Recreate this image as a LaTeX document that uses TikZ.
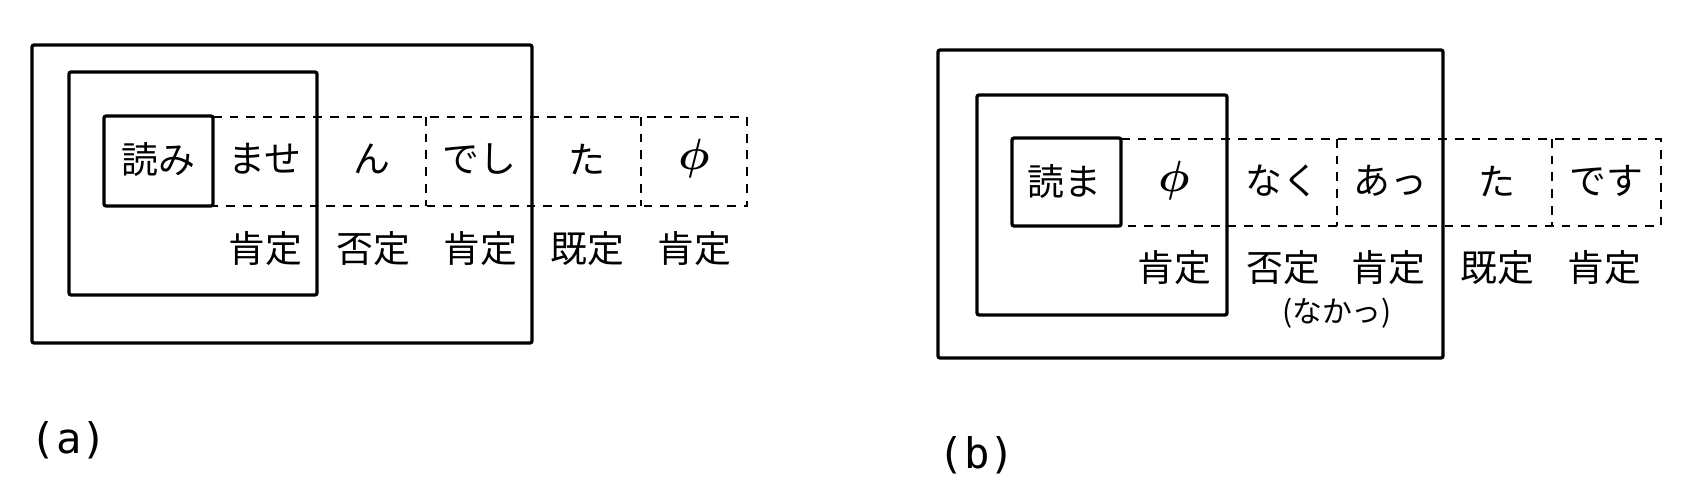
\documentclass[tikz,border=0pt]{standalone}
\usepackage{bm}
\usepackage{fontspec}
\newfontfamily\jpfont{Noto Sans CJK JP}
\newfontfamily\tagfont{DejaVu Sans Mono}

\tikzset{
  solidbox/.style={draw=black, line width=1.9pt, rounded corners=1.2pt},
  dashrule/.style={draw=black, line width=1.5pt, dash pattern=on 5pt off 4.5pt},
  cell/.style={font=\jpfont\fontsize{21}{24}\selectfont, inner sep=0pt},
  small/.style={font=\jpfont\fontsize{17}{20}\selectfont, inner sep=0pt},
  panel/.style={font=\tagfont\fontsize{24}{28}\selectfont, inner sep=0pt}
}
\newcommand{\nullmark}{\fontsize{24}{28}\selectfont$\bm{\phi}$}

\begin{document}
\begin{tikzpicture}[x=0.02cm, y=-0.02cm]

\useasboundingbox (0,0) rectangle (1681,480);

% (a)
\begin{scope}{
\draw[solidbox] (32,45) rectangle (532,343);
\draw[solidbox] (69,72) rectangle (317,295);
\draw[solidbox] (104,116) rectangle (213,206);

\draw[dashrule] (213,117) -- (747,117) -- (747,206) -- (213,206);
\draw[dashrule] (426,117) -- (426,206);
\draw[dashrule] (641,117) -- (641,206);

\node[cell] (yomiA) at (158,159) {読み};
\node[cell] (maseA) at (265,159) {ませ};
\node[cell] (nA) at (372,159) {ん};
\node[cell] (deshiA) at (479,159) {でし};
\node[cell] (taA) at (587,159) {た};
\node[cell] (phiA) at (694,159) {\nullmark};

\node[cell] (affA) at (265,249) {肯定};
\node[cell] (negA) at (373,249) {否定};
\node[cell] (aff2A) at (480,249) {肯定};
\node[cell] (perfA) at (587,249) {既定};
\node[cell] (aff3A) at (694,249) {肯定};

\node[panel] (tagA) at (69,440) {(a)};
} \end{scope}

% (b)
\begin{scope}{
\draw[solidbox] (938,50) rectangle (1443,358);
\draw[solidbox] (977,95) rectangle (1227,315);
\draw[solidbox] (1012,138) rectangle (1121,226);

\draw[dashrule] (1121,139) -- (1661,139) -- (1661,226) -- (1121,226);
\draw[dashrule] (1337,139) -- (1337,226);
\draw[dashrule] (1552,139) -- (1552,226);

\node[cell] (yomaB) at (1064,181) {読ま};
\node[cell] (phiB) at (1174,181) {\nullmark};
\node[cell] (nakuB) at (1282,181) {なく};
\node[cell] (attB) at (1390,181) {あっ};
\node[cell] (taB) at (1497,181) {た};
\node[cell] (desuB) at (1606,181) {です};

\node[cell] (affB) at (1174,268) {肯定};
\node[cell] (negB) at (1283,268) {否定};
\node[cell] (aff2B) at (1388,268) {肯定};
\node[cell] (perfB) at (1497,268) {既定};
\node[cell] (aff3B) at (1604,268) {肯定};
\node[small] (nakaB) at (1337,313) {(なかっ)};

\node[panel] (tagB) at (977,455) {(b)};
} \end{scope}

\end{tikzpicture}
\end{document}
